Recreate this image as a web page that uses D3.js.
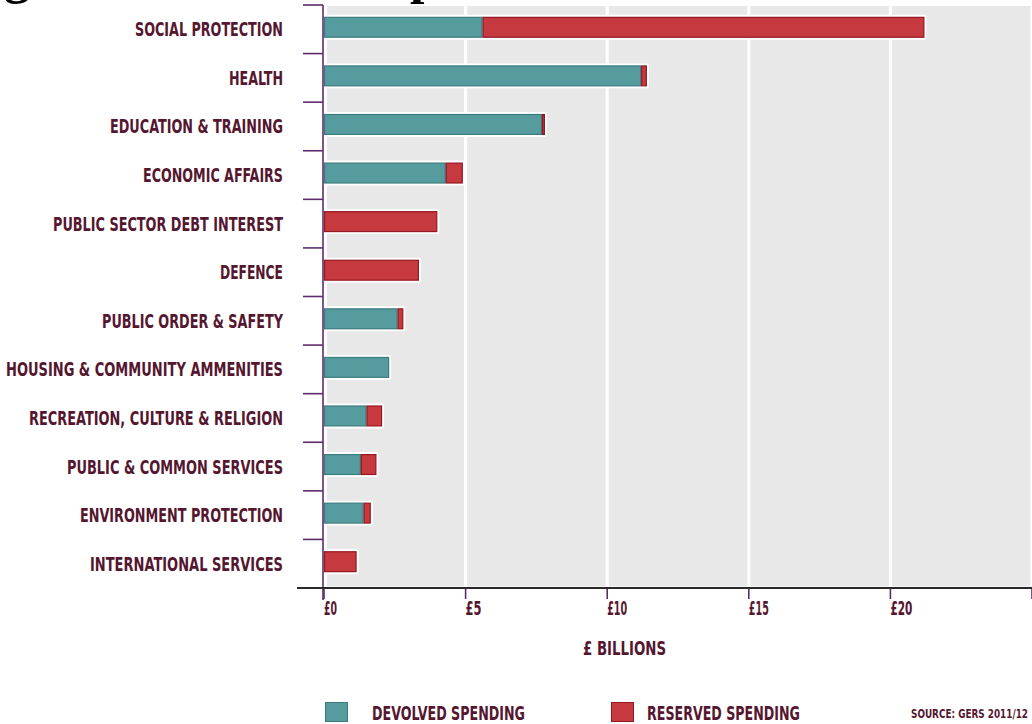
<!DOCTYPE html>
<html>
<head>
<meta charset="utf-8">
<script src="https://cdn.jsdelivr.net/npm/d3@7"></script>
<style>
  html, body { margin: 0; padding: 0; background: #ffffff; }
  svg { display: block; }
  .lbl { font-family: "Liberation Sans Narrow", "DejaVu Sans Condensed", "Liberation Sans", sans-serif; font-weight: bold; fill: #55172f; }
</style>
</head>
<body>
<svg id="chart" width="1032" height="724"></svg>
<script>
// Scottish public spending by function, £ billions (GERS 2011/12)
const categories = [
  "SOCIAL PROTECTION",
  "HEALTH",
  "EDUCATION & TRAINING",
  "ECONOMIC AFFAIRS",
  "PUBLIC SECTOR DEBT INTEREST",
  "DEFENCE",
  "PUBLIC ORDER & SAFETY",
  "HOUSING & COMMUNITY AMMENITIES",
  "RECREATION, CULTURE & RELIGION",
  "PUBLIC & COMMON SERVICES",
  "ENVIRONMENT PROTECTION",
  "INTERNATIONAL SERVICES"
];
const devolved = [5.6, 11.2, 7.7, 4.3, 0, 0, 2.6, 2.3, 1.5, 1.3, 1.4, 0];
const reserved = [15.6, 0.2, 0.1, 0.6, 4.0, 3.35, 0.2, 0, 0.55, 0.55, 0.25, 1.15];
const xTicks = [0, 5, 10, 15, 20, 25];
const xTickLabels = ["£0", "£5", "£10", "£15", "£20", "£25"];
const seriesNames = ["DEVOLVED SPENDING", "RESERVED SPENDING"];
const titleText = "Figure 2: Scottish expenditure 2011-12";
const axisTitle = "£ BILLIONS";
const sourceText = "SOURCE: GERS 2011/12";

// category label widths (condensed display lettering)
const labelWidths = [148, 54, 173, 140, 230, 63, 181, 277, 254, 216, 203, 193];
const tickLabelWidths = [13, 16, 20, 20, 22, 22];

const colors = {
  devolved: "#569c9e", devolvedEdge: "#3a7b7e",
  reserved: "#c5393f", reservedEdge: "#961720",
  grid: "#e8e8e8", axis: "#5e2c6c"
};

const svg = d3.select("#chart");

// title line, only its lowest strokes fall inside the page
const title = svg.append("text")
  .attr("x", 0).attr("y", -7)
  .attr("font-family", "'Liberation Serif', 'DejaVu Serif', serif")
  .attr("font-weight", "bold")
  .attr("font-size", 30)
  .attr("fill", "#000")
  .text(titleText);
{
  const n = title.node();
  const gi = titleText.indexOf("g"), pi = titleText.indexOf("p");
  let gx = n.getStartPositionOfChar(gi).x, px = n.getStartPositionOfChar(pi).x;
  const k = (410 - 4) / (px - gx);
  title.attr("font-size", 30 * k);
  gx = n.getStartPositionOfChar(gi).x;
  title.attr("x", 4 - gx);
}

const x = d3.scaleLinear().domain([0, 25]).range([324, 1032]);
const y = d3.scaleBand().domain(categories).range([5, 588])
  .paddingInner(0.57).paddingOuter(0.285);
const step = y.step();

// plot background and vertical gridlines
svg.append("rect")
  .attr("x", x(0) + 3).attr("y", 6)
  .attr("width", 1032 - x(0) - 3).attr("height", 580.5)
  .attr("fill", colors.grid);
svg.append("g").selectAll("line")
  .data(xTicks.slice(1))
  .join("line")
  .attr("x1", d => x(d)).attr("x2", d => x(d))
  .attr("y1", 5).attr("y2", 587)
  .attr("stroke", "#ffffff").attr("stroke-width", 3);

// stacked bars
const rows = categories.map((c, i) => ({ c, dev: devolved[i], res: reserved[i] }));
const segs = [];
rows.forEach(r => {
  if (r.dev > 0) segs.push({ c: r.c, x0: 0, x1: r.dev, fill: colors.devolved, edge: colors.devolvedEdge });
  if (r.res > 0) segs.push({ c: r.c, x0: r.dev, x1: r.dev + r.res, fill: colors.reserved, edge: colors.reservedEdge });
});
const barY = d => y(d.c) - 2;

// white halo behind each bar
const bars = svg.append("g");
bars.selectAll("rect.halo")
  .data(rows)
  .join("rect")
  .attr("class", "halo")
  .attr("x", x(0))
  .attr("y", d => y(d.c) - 2 - 2)
  .attr("width", d => x(d.dev + d.res) - x(0) + 2)
  .attr("height", y.bandwidth() + 4)
  .attr("rx", 2)
  .attr("fill", "#ffffff");
bars.selectAll("rect.seg")
  .data(segs)
  .join("rect")
  .attr("class", "seg")
  .attr("x", d => x(d.x0) + 0.5)
  .attr("y", d => barY(d) + 0.5)
  .attr("width", d => Math.max(0, x(d.x1) - x(d.x0) - 1))
  .attr("height", y.bandwidth() - 1)
  .attr("fill", d => d.fill)
  .attr("stroke", d => d.edge)
  .attr("stroke-width", 1.2);

// y axis: line plus ticks at category boundaries
svg.append("line")
  .attr("x1", 323).attr("x2", 323).attr("y1", 5).attr("y2", 600)
  .attr("stroke", colors.axis).attr("stroke-width", 1.6);
svg.append("g").selectAll("line")
  .data(d3.range(categories.length + 1))
  .join("line")
  .attr("x1", 303).attr("x2", 323)
  .attr("y1", i => 5 + i * step).attr("y2", i => 5 + i * step)
  .attr("stroke", colors.axis).attr("stroke-width", 1.6);

// category labels
svg.append("g").selectAll("text")
  .data(categories)
  .join("text")
  .attr("class", "lbl")
  .attr("x", (d, i) => 283 - labelWidths[i])
  .attr("y", d => y(d) + y.bandwidth() / 2 + 7)
  .attr("font-size", 19)
  .attr("textLength", (d, i) => labelWidths[i])
  .attr("lengthAdjust", "spacingAndGlyphs")
  .text(d => d);

// x axis
svg.append("line")
  .attr("x1", 297).attr("x2", 1032).attr("y1", 588).attr("y2", 588)
  .attr("stroke", "#2a2a2a").attr("stroke-width", 2);
svg.append("g").selectAll("line")
  .data(xTicks)
  .join("line")
  .attr("x1", d => x(d)).attr("x2", d => x(d))
  .attr("y1", 589).attr("y2", 599)
  .attr("stroke", colors.axis).attr("stroke-width", 1.6);
svg.append("g").selectAll("text")
  .data(xTicks)
  .join("text")
  .attr("class", "lbl")
  .attr("x", d => x(d))
  .attr("y", 615)
  .attr("font-size", 19)
  .attr("textLength", (d, i) => tickLabelWidths[i])
  .attr("lengthAdjust", "spacingAndGlyphs")
  .text((d, i) => xTickLabels[i]);

svg.append("text")
  .attr("class", "lbl")
  .attr("x", 583).attr("y", 655)
  .attr("font-size", 19)
  .attr("textLength", 83)
  .attr("lengthAdjust", "spacingAndGlyphs")
  .text(axisTitle);

// legend
const legend = [
  { name: seriesNames[0], fill: colors.devolved, edge: colors.devolvedEdge, sx: 325, tx: 372, w: 153 },
  { name: seriesNames[1], fill: colors.reserved, edge: colors.reservedEdge, sx: 611, tx: 647, w: 153 }
];
const lg = svg.append("g").selectAll("g").data(legend).join("g");
lg.append("rect")
  .attr("x", d => d.sx + 0.5).attr("y", 702.5)
  .attr("width", 22).attr("height", 19)
  .attr("fill", d => d.fill).attr("stroke", d => d.edge).attr("stroke-width", 1);
lg.append("text")
  .attr("class", "lbl")
  .attr("x", d => d.tx).attr("y", 720)
  .attr("font-size", 19)
  .attr("textLength", d => d.w)
  .attr("lengthAdjust", "spacingAndGlyphs")
  .text(d => d.name);

svg.append("text")
  .attr("class", "lbl")
  .attr("x", 911).attr("y", 718)
  .attr("font-size", 13)
  .attr("textLength", 117)
  .attr("lengthAdjust", "spacingAndGlyphs")
  .text(sourceText);
</script>
</body>
</html>
